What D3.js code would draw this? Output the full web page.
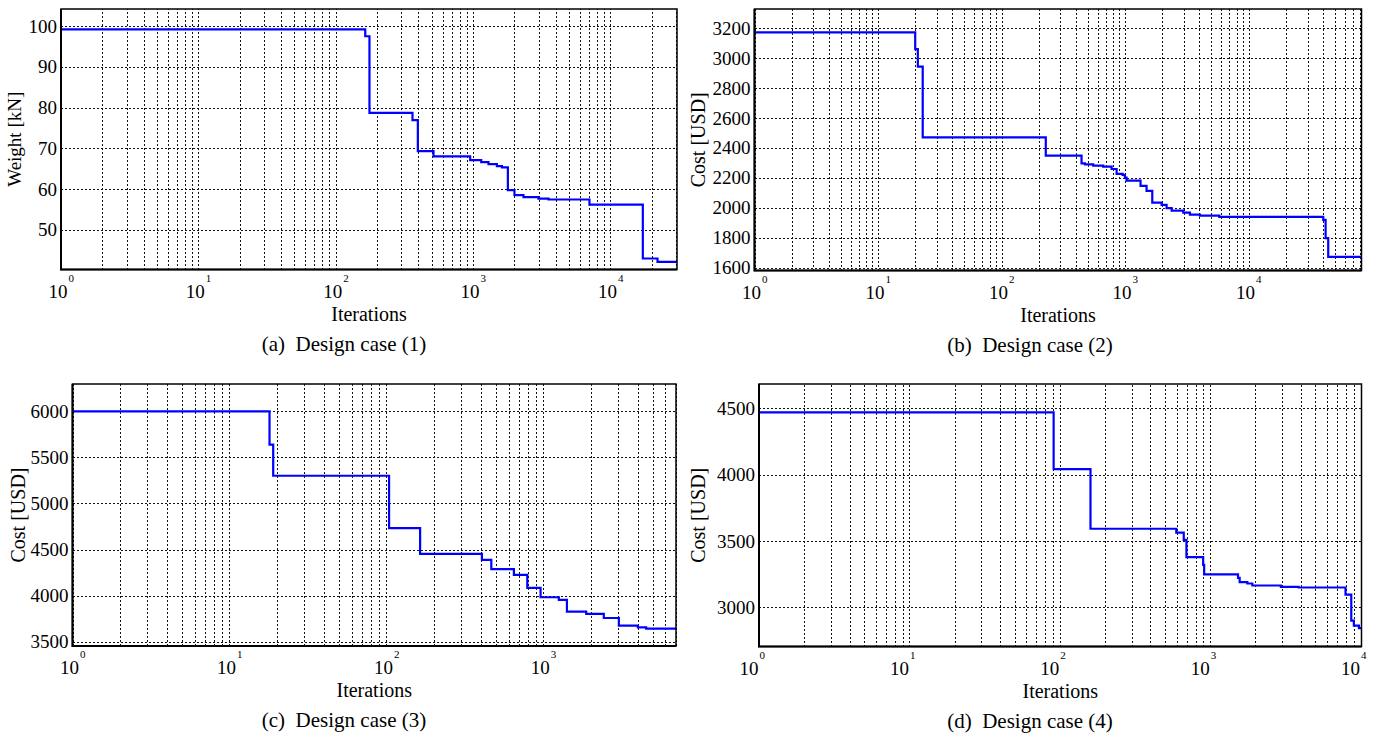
<!DOCTYPE html>
<html>
<head>
<meta charset="utf-8">
<script src="https://cdn.jsdelivr.net/npm/d3@7"></script>
<style>
  body { margin: 0; background: #fff; }
  svg { display: block; font-family: "Liberation Serif", "Times New Roman", serif; }
</style>
</head>
<body>
<script>
// ---- data ----
// (a) weight vs iterations
const itersA = [1, 164, 176, 362, 396, 515, 952, 1146, 1294, 1490, 1622, 1791, 2000, 2327, 2990, 3540, 7030, 17200, 22000, 30500];
const weightA = [99.2, 97.5, 78.7, 76.9, 69.3, 68.0, 67.05, 66.6, 66.1, 65.6, 65.3, 59.7, 58.45, 58.0, 57.6, 57.4, 56.15, 42.9, 42.05, 42.05];
// (b) cost
const itersB = [1, 20, 21, 23, 228, 444, 473, 552, 665, 778, 854, 955, 996, 1028, 1334, 1492, 1660, 1976, 2168, 2381, 2958, 3350, 4036, 5785, 40200, 42000, 44100, 82000];
const costB = [3173, 3060, 2943, 2471, 2348, 2297, 2290, 2281, 2275, 2259, 2226, 2219, 2201, 2181, 2146, 2112, 2034, 2019, 1997, 1981, 1967, 1954, 1947, 1938, 1918, 1796, 1671, 1671];
// (c) cost
const itersC = [1, 18, 19, 104, 164, 406, 466, 649, 790, 960, 1255, 1413, 1875, 2427, 3027, 4000, 4520, 7000];
const costC = [6000, 5640, 5301, 4732, 4453, 4388, 4287, 4225, 4084, 3982, 3953, 3826, 3801, 3757, 3674, 3656, 3641, 3641];
// (d) cost
const itersD = [1, 91, 160, 595, 667, 695, 898, 912, 1531, 1570, 1766, 1906, 2950, 3874, 7940, 8670, 9020, 9750, 10140];
const costD = [4467, 4040, 3592, 3563, 3508, 3378, 3320, 3248, 3223, 3190, 3180, 3165, 3155, 3150, 3097, 2901, 2863, 2845, 2845];

const yTicksA = [50, 60, 70, 80, 90, 100];
const yTicksB = [1600, 1800, 2000, 2200, 2400, 2600, 2800, 3000, 3200];
const yTicksC = [3500, 4000, 4500, 5000, 5500, 6000];
const yTicksD = [3000, 3500, 4000, 4500];

const yLabels = ["Weight [kN]", "Cost [USD]", "Cost [USD]", "Cost [USD]"];
const captions = ["(a)  Design case (1)", "(b)  Design case (2)", "(c)  Design case (3)", "(d)  Design case (4)"];
const xLabel = "Iterations";

const svg = d3.select("body").append("svg")
  .attr("width", 1377)
  .attr("height", 738);

const panels = [
  { x: itersA, y: weightA, yTicks: yTicksA, xDom: [1, 30500], yDom: [40.2, 104.2],
    box: [61, 677, 9, 269.5], ylabX: 14, ylabSize: 19, capX: 344, tickShift: 6 },
  { x: itersB, y: costB, yTicks: yTicksB, xDom: [1, 82000], yDom: [1580, 3329],
    box: [754.5, 1361.5, 9, 270.5], ylabX: 698, ylabSize: 20, capX: 1030, tickShift: 6 },
  { x: itersC, y: costC, yTicks: yTicksC, xDom: [1, 7000], yDom: [3453, 6297],
    box: [72.5, 676, 384, 646], ylabX: 17.5, ylabSize: 20, capX: 344, tickShift: 6 },
  { x: itersD, y: costD, yTicks: yTicksD, xDom: [1, 10140], yDom: [2706, 4681],
    box: [759, 1361.5, 384, 646.5], ylabX: 698, ylabSize: 20, capX: 1030, tickShift: -1 },
];

// axis groups come with their own font attrs; drop them so the serif applies
const plain = a => a.attr("font-family", null).attr("font-size", null);

const drawPanel = (p, i) => {
  const [l, r, t, b] = p.box;
  const w = r - l, h = b - t;
  const x = d3.scaleLog().domain(p.xDom).range([0, w]);
  const y = d3.scaleLinear().domain(p.yDom).range([h, 0]);
  const g = svg.append("g").attr("transform", `translate(${l},${t})`);

  // grid - all log ticks on x, majors on y
  const gx = g.append("g").attr("transform", `translate(0,${h})`)
    .call(d3.axisBottom(x).tickValues(x.ticks()).tickSize(-h).tickFormat(""));
  const gy = g.append("g")
    .call(d3.axisLeft(y).tickValues(p.yTicks).tickSize(-w).tickFormat(""));
  [gx, gy].forEach(a => {
    a.select(".domain").remove();
    a.selectAll(".tick line")
      .attr("stroke", "#111")
      .attr("stroke-width", 1)
      .attr("stroke-dasharray", "2,2")
      .attr("shape-rendering", "crispEdges");
  });

  // y tick labels
  const yl = g.append("g")
    .call(d3.axisLeft(y).tickValues(p.yTicks).tickSize(0).tickPadding(4).tickFormat(d3.format("d")))
    .call(plain);
  yl.select(".domain").remove();
  yl.selectAll(".tick text")
    .attr("font-size", 19)
    .attr("fill", "#000");

  // x tick labels as 10^k
  const decades = x.ticks().filter(d => Math.abs(Math.log10(d) - Math.round(Math.log10(d))) < 1e-9);
  const xl = g.append("g").attr("transform", `translate(0,${h})`)
    .call(d3.axisBottom(x).tickValues(decades).tickSize(0).tickFormat(""))
    .call(plain);
  xl.select(".domain").remove();
  xl.selectAll(".tick").each(function (d) {
    const tk = d3.select(this);
    tk.select("text").remove();
    tk.append("text")
      .attr("x", p.tickShift).attr("y", 28)
      .attr("text-anchor", "end")
      .attr("font-size", 19)
      .attr("fill", "#000")
      .text("10");
    tk.append("text")
      .attr("x", p.tickShift + 1).attr("y", 12)
      .attr("text-anchor", "start")
      .attr("font-size", 11)
      .attr("fill", "#000")
      .text(Math.round(Math.log10(d)));
  });

  // the curve
  const pts = p.x.map((v, k) => [v, p.y[k]]);
  g.append("path")
    .datum(pts)
    .attr("fill", "none")
    .attr("stroke", "#0000ff")
    .attr("stroke-width", 2.2)
    .attr("d", d3.line().curve(d3.curveStepAfter).x(d => x(d[0])).y(d => y(d[1])));

  // frame, left and bottom spines a bit heavier like the source
  g.append("rect")
    .attr("width", w).attr("height", h)
    .attr("fill", "none")
    .attr("stroke", "#000")
    .attr("stroke-width", 1.5);
  g.append("path")
    .attr("d", `M0,0V${h}H${w}`)
    .attr("fill", "none")
    .attr("stroke", "#000")
    .attr("stroke-width", 2);

  // axis titles
  svg.append("text")
    .attr("x", l + w / 2).attr("y", b + 51)
    .attr("text-anchor", "middle")
    .attr("font-size", 20)
    .text(xLabel);
  svg.append("text")
    .attr("transform", `translate(${p.ylabX},${t + h / 2}) rotate(-90)`)
    .attr("dy", "0.35em")
    .attr("text-anchor", "middle")
    .attr("font-size", p.ylabSize)
    .text(yLabels[i]);

  // caption
  svg.append("text")
    .attr("x", p.capX).attr("y", b + 81)
    .attr("text-anchor", "middle")
    .attr("font-size", 21)
    .style("white-space", "pre")
    .text(captions[i]);
};

panels.forEach(drawPanel);
</script>
</body>
</html>
